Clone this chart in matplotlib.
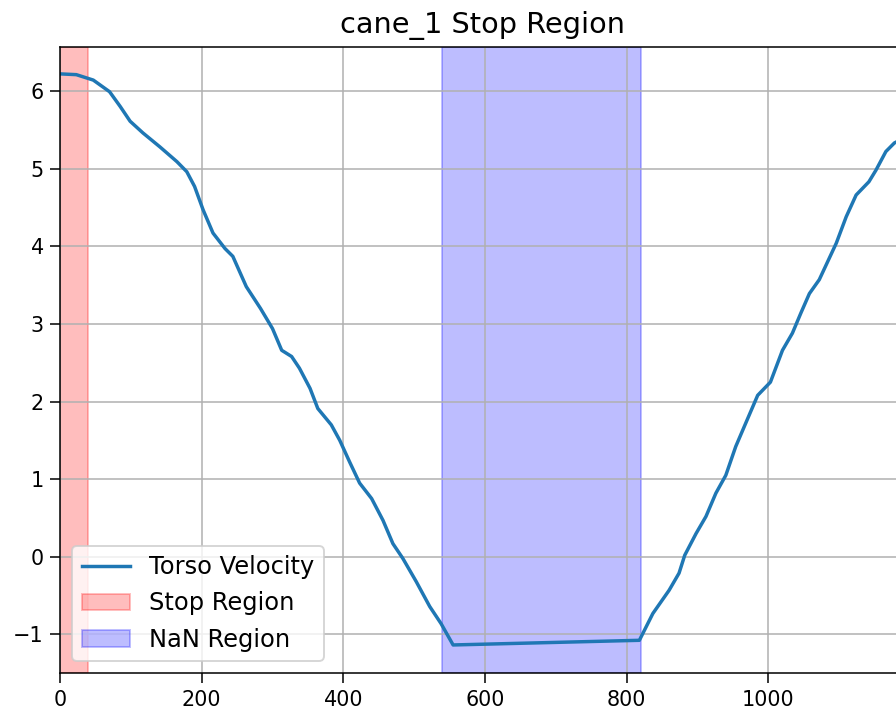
import numpy as np
import matplotlib
matplotlib.use("Agg")
import matplotlib.pyplot as plt

# torso velocity trace (frame index, velocity)
frames = [0, 23, 47, 70, 85, 99, 117, 141, 165, 179, 190, 202, 216, 233, 244,
          263, 283, 300, 313, 327, 338, 353, 364, 383, 395, 409, 423, 440, 456,
          470, 484, 503, 522, 538, 555, 818, 837, 860, 874, 882, 898, 912, 926,
          940, 954, 969, 985, 1003, 1020, 1034, 1046, 1058, 1072, 1096, 1110,
          1124, 1142, 1152, 1166, 1178, 1193]
velocity = [6.22, 6.21, 6.14, 5.99, 5.80, 5.61, 5.46, 5.28, 5.09, 4.96, 4.77,
            4.47, 4.17, 3.97, 3.87, 3.48, 3.20, 2.94, 2.66, 2.58, 2.43, 2.17,
            1.91, 1.70, 1.50, 1.22, 0.95, 0.75, 0.47, 0.17, -0.02, -0.32,
            -0.64, -0.86, -1.135, -1.075, -0.73, -0.43, -0.21, 0.02, 0.30,
            0.52, 0.82, 1.05, 1.42, 1.74, 2.08, 2.25, 2.66, 2.88, 3.14, 3.39,
            3.57, 4.04, 4.38, 4.66, 4.83, 4.98, 5.22, 5.33, 5.40]

stop_region = (0, 40)
nan_region = (540, 820)


def main():
    fig = plt.figure(figsize=(896 / 138, 714 / 138), dpi=138)
    ax = fig.add_axes([60 / 896, 1 - 673.3 / 714, 845 / 896, 626.6 / 714])

    ax.plot(np.array(frames), np.array(velocity), lw=1.8, label="Torso Velocity")
    ax.axvspan(*stop_region, color="red", alpha=0.26, label="Stop Region")
    ax.axvspan(*nan_region, color="blue", alpha=0.26, label="NaN Region")

    ax.set_xlim(0, 1193)
    ax.set_ylim(-1.50, 6.57)
    ax.set_xticks([0, 200, 400, 600, 800, 1000])
    ax.tick_params(labelsize=10.8, length=5)
    ax.grid(True)
    ax.set_title("cane_1 Stop Region", fontsize=15, pad=7)
    ax.legend(loc="lower left", fontsize=12.6)

    fig.savefig("out.png", dpi=138)


if __name__ == "__main__":
    main()
